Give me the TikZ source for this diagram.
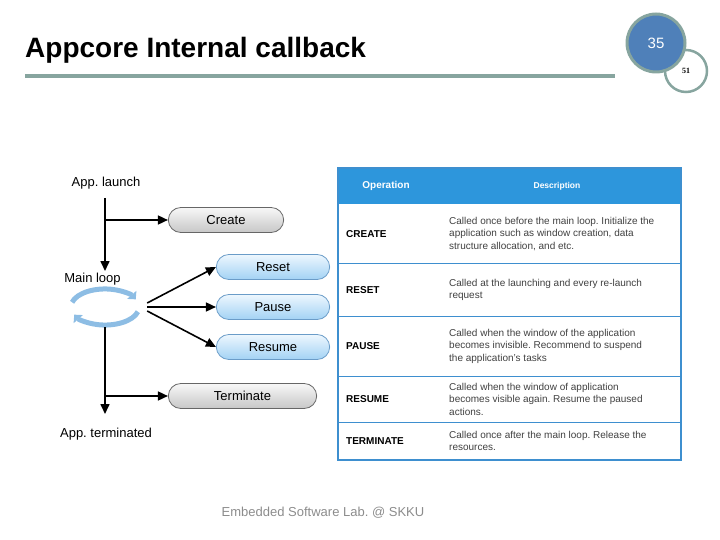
\documentclass[tikz,border=0pt]{standalone}
\usepackage{fontspec}
\setmainfont{Liberation Sans}
\newfontfamily\numfont{Liberation Serif}
\usetikzlibrary{arrows.meta,shapes.misc,positioning}

\definecolor{rulecol}{HTML}{87A59F}
\definecolor{numblue}{HTML}{4F80B9}
\definecolor{tblhead}{HTML}{2D96DC}
\definecolor{tblline}{HTML}{3E8FCF}
\definecolor{loopblue}{HTML}{8DBDE4}
\definecolor{pilledge}{HTML}{6A9CC8}
\definecolor{pilltop}{HTML}{EEF7FE}
\definecolor{pillbot}{HTML}{A2D2F4}

\tikzset{
  arr/.style={line width=1.6pt, -{Triangle[length=10pt,width=9pt]}},
  plain/.style={line width=1.6pt},
  lbl/.style={font=\fontsize{13}{15}\selectfont},
  greypill/.style={rounded rectangle, draw=black!60, line width=0.8pt,
    top color=black!3, bottom color=black!22, minimum height=25pt,
    font=\fontsize{13}{15}\selectfont},
  bluepill/.style={rounded rectangle, draw=pilledge, line width=0.8pt,
    top color=pilltop, bottom color=pillbot, minimum height=25pt,
    font=\fontsize{13}{15}\selectfont},
  loopline/.style={line width=5pt, draw=loopblue, -{Triangle[length=6pt,width=12pt]}},
  oplabel/.style={anchor=west, inner sep=0pt, font=\bfseries\fontsize{10}{12}\selectfont},
  optext/.style={anchor=west, align=left, inner sep=0pt, text=black!75,
    font=\fontsize{10}{12.5}\selectfont},
}

\begin{document}
\frenchspacing
\begin{tikzpicture}[x=1pt,y=-1pt]
\useasboundingbox (0,0) rectangle (720,540);

% title and page number
\node[anchor=base west, inner sep=0pt, font=\bfseries\fontsize{28}{30}\selectfont] (title) at (25,58) {Appcore Internal callback};
\draw[rulecol, line width=4pt] (25,76) -- (615,76);
\node[circle, draw=rulecol, line width=2.5pt, fill=white, minimum size=42pt,
  font=\numfont\bfseries\fontsize{8}{9}\selectfont] (subnum) at (686,71) {51};
\node[circle, draw=rulecol, line width=3pt, fill=numblue, minimum size=58pt,
  text=white, font=\fontsize{15}{16}\selectfont] (pagenum) at (656,43) {35};

% life cycle
\node[lbl] (launch) at (106,183) {App. launch};
\node[greypill, minimum width=122pt] (create) at (226,220) {Create};
\node[lbl] (mainlbl) at (92.5,279) {Main loop};
\node[minimum width=80pt, minimum height=40pt, inner sep=0pt] (loop) at (105,307) {};
\node[bluepill, minimum width=120pt] (reset) at (273,267) {Reset};
\node[bluepill, minimum width=120pt] (pause) at (273,307) {Pause};
\node[bluepill, minimum width=120pt] (resume) at (273,347) {Resume};
\node[greypill, minimum width=155pt] (terminate) at (242.5,396) {Terminate};
\node[lbl] (endlbl) at (106,434) {App. terminated};

\coordinate (trunktop) at (105,198);
\coordinate (fork1) at (105,220);
\coordinate (trunkmid) at (105,271);
\coordinate (fork2) at (105,396);
\coordinate (trunkbot) at (105,414);

\draw[plain] (trunktop) -- (fork1);
\draw[arr] (fork1) -- (trunkmid);
\draw[arr] (fork1) -- (create.west);

% loop arrows
\draw[loopline] (loop.center) ++(-32.9,-4.7) arc[start angle=-165, end angle=-25, x radius=34, y radius=18];
\draw[loopline] (loop.center) ++(32.9,4.7) arc[start angle=15, end angle=155, x radius=34, y radius=18];

\draw[arr] ([shift={(2,-4)}]loop.east) -- (reset.west);
\draw[arr] ([shift={(2,0)}]loop.east) -- (pause.west);
\draw[arr] ([shift={(2,4)}]loop.east) -- (resume.west);

\draw[plain] (loop.south) -- (fork2);
\draw[arr] (fork2) -- (trunkbot);
\draw[arr] (fork2) -- (terminate.west);

% table
\fill[tblhead] (338,168) rectangle (681,204);
\foreach \y in {263,316,376,422}{
  \draw[tblline, line width=0.8pt] (338,\y) -- (681,\y);
}
\draw[tblline, line width=1.5pt] (338,168) rectangle (681,460);
\node[text=white, font=\bfseries\fontsize{10}{12}\selectfont] (hop) at (386,186) {Operation};
\node[text=white, font=\bfseries\fontsize{8.5}{10}\selectfont] (hdesc) at (557,186) {Description};

\foreach \y/\op/\desc [count=\i] in {
  234/CREATE/{Called once before the main loop. Initialize the\\application such as window creation, data\\structure allocation, and etc.},
  290/RESET/{Called at the launching and every re-launch\\request},
  346/PAUSE/{Called when the window of the application\\becomes invisible. Recommend to suspend\\the application’s tasks},
  399/RESUME/{Called when the window of application\\becomes visible again. Resume the paused\\actions.},
  441/TERMINATE/{Called once after the main loop. Release the\\resources.}}{
  \node[oplabel] (op\i) at (346,\y) {\op};
  \node[optext] (desc\i) at (449,\y) {\desc};
}

% footer
\node[text=black!45, font=\fontsize{13}{14}\selectfont] (footer) at (323,513) {Embedded Software Lab. @ SKKU};
\end{tikzpicture}
\end{document}
